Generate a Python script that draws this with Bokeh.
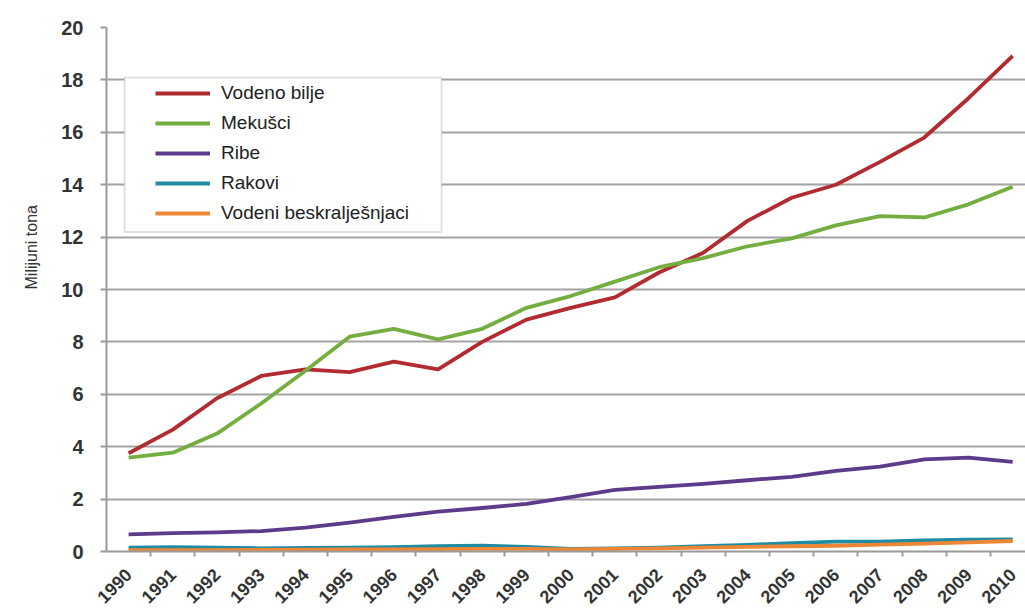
from math import pi
from bokeh.plotting import figure
from bokeh.models import Range1d, FixedTicker, Legend, LegendItem, BoxAnnotation, Title
from bokeh.embed import file_html
from bokeh.resources import INLINE

years = list(range(1990, 2011))
series_names = ["Vodeno bilje", "Mekušci", "Ribe", "Rakovi", "Vodeni beskralješnjaci"]
vodeno_bilje = [3.75, 4.65, 5.85, 6.7, 6.95, 6.85, 7.25, 6.95, 8.0, 8.85, 9.3, 9.7,
                10.65, 11.4, 12.62, 13.5, 14.0, 14.87, 15.8, 17.3, 18.92]
mekusci = [3.58, 3.77, 4.5, 5.65, 6.9, 8.2, 8.5, 8.1, 8.5, 9.3, 9.75, 10.3,
           10.85, 11.2, 11.65, 11.95, 12.45, 12.8, 12.75, 13.25, 13.92]
ribe = [0.65, 0.7, 0.73, 0.78, 0.91, 1.1, 1.32, 1.52, 1.66, 1.82, 2.08, 2.35,
        2.47, 2.58, 2.72, 2.85, 3.08, 3.24, 3.52, 3.58, 3.42]
rakovi = [0.15, 0.17, 0.15, 0.12, 0.14, 0.15, 0.17, 0.2, 0.22, 0.18, 0.1, 0.12,
          0.15, 0.2, 0.25, 0.32, 0.38, 0.38, 0.42, 0.45, 0.46]
beskraljesnjaci = [0.05, 0.05, 0.05, 0.06, 0.07, 0.08, 0.08, 0.09, 0.1, 0.1, 0.08, 0.1,
                   0.12, 0.15, 0.18, 0.2, 0.22, 0.26, 0.3, 0.35, 0.4]
y_ticks = list(range(0, 21, 2))
y_title = "Milijuni tona"
colors = ["#B22B30", "#74AE40", "#5E3A8A", "#1F8CA4", "#EE8636"]

FONT = "Liberation Sans"

p = figure(width=1025, height=612, output_backend="svg", toolbar_location=None,
           x_range=Range1d(1989.5, 2010.29), y_range=Range1d(0, 20),
           min_border_left=106, min_border_right=0, min_border_top=27,
           min_border_bottom=60)
p.outline_line_color = None
p.background_fill_color = "white"
p.border_fill_color = "white"

# grid
p.xgrid.grid_line_color = None
p.ygrid.ticker = FixedTicker(ticks=y_ticks)
p.ygrid.grid_line_color = "#A3A3A3"
p.ygrid.grid_line_width = 2

# y axis
p.yaxis.ticker = FixedTicker(ticks=y_ticks)
p.yaxis.axis_line_color = "#9A9A9A"
p.yaxis.axis_line_width = 2
p.yaxis.major_tick_line_color = "#9A9A9A"
p.yaxis.major_tick_line_width = 2
p.yaxis.major_tick_out = 6
p.yaxis.major_tick_in = 0
p.yaxis.minor_tick_line_color = None
p.yaxis.major_label_standoff = 17
p.yaxis.major_label_text_font = FONT
p.yaxis.major_label_text_font_style = "bold"
p.yaxis.major_label_text_font_size = "20px"
p.yaxis.major_label_text_color = "#333333"

# y axis title, placed like the reference (above the vertical centre)
p.add_layout(Title(text=y_title, align="left", offset=262, standoff=38,
                   text_font=FONT, text_font_size="16px", text_font_style="normal",
                   text_color="#333333"), "left")

# x axis
p.xaxis.ticker = FixedTicker(ticks=years, minor_ticks=[y + 0.5 for y in years[:-1]])
p.xaxis.major_label_overrides = {y: str(y) for y in years}
p.xaxis.axis_line_color = "#9A9A9A"
p.xaxis.axis_line_width = 2
p.xaxis.major_tick_out = 0
p.xaxis.major_tick_in = 0
p.xaxis.minor_tick_line_color = "#9A9A9A"
p.xaxis.minor_tick_line_width = 2
p.xaxis.minor_tick_out = 5
p.xaxis.minor_tick_in = 0
p.xaxis.major_label_orientation = pi / 4
p.xaxis.major_label_standoff = 15
p.xaxis.major_label_text_font = FONT
p.xaxis.major_label_text_font_style = "bold"
p.xaxis.major_label_text_font_size = "18px"
p.xaxis.major_label_text_color = "#333333"

data = [vodeno_bilje, mekusci, ribe, rakovi, beskraljesnjaci]
items = []
for name, vals, c in zip(series_names, data, colors):
    r = p.line(years, vals, line_color=c, line_width=3.8, line_join="round")
    items.append(LegendItem(label=name, renderers=[r]))

box = BoxAnnotation(left=1989.907, right=1997.08, top=18.095, bottom=12.19,
                    fill_color="white", fill_alpha=1.0,
                    line_color="#9A9A9A", line_width=2)
p.add_layout(box)

legend = Legend(items=items, location=(44, 322), padding=5, margin=0, spacing=8,
                glyph_width=55, glyph_height=20, label_height=20, label_standoff=11,
                label_text_font=FONT, label_text_font_size="19px",
                label_text_color="#222222", border_line_alpha=0,
                background_fill_alpha=0)
p.add_layout(legend)

open("out.html", "w").write(file_html(p, INLINE))
